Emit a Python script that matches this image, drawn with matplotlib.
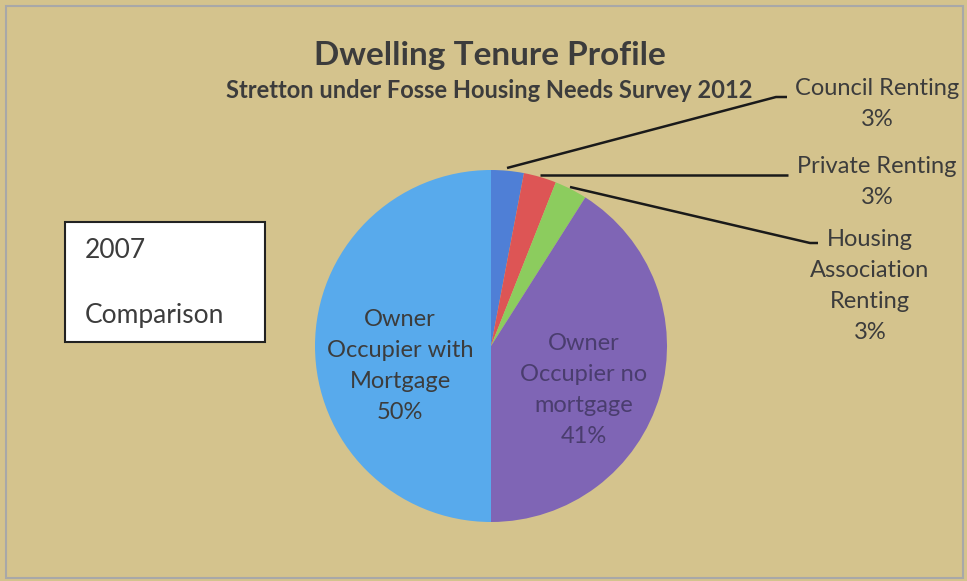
import matplotlib.pyplot as plt
from matplotlib.patches import Rectangle

# tenure categories, clockwise from 12 o'clock
labels = ['Council Renting', 'Private Renting', 'Housing\nAssociation\nRenting',
          'Owner\nOccupier no\nmortgage', 'Owner\nOccupier with\nMortgage']
values = [3, 3, 3, 41, 50]
colors = ['#4f7fd6', '#dd5555', '#8ccc5e', '#7f65b5', '#58aaec']

bg = '#d4c38d'
txt = '#3c3c3c'
plt.rcParams['font.family'] = ['Lato', 'DejaVu Sans']

W, H = 967, 581
fig = plt.figure(figsize=(W / 100, H / 100), dpi=100, facecolor=bg)
ax = fig.add_axes([0, 0, 1, 1])
ax.set_facecolor(bg)

cx, cy, r = 491, H - 346, 176
wedges, _ = ax.pie(values, colors=colors, startangle=90, counterclock=False,
                   center=(cx, cy), radius=r, frame=True)
ax.set_xlim(0, W)
ax.set_ylim(0, H)
ax.axis('off')

# inside labels
inside = {3: (584, 390, '#4a3d6e'), 4: (400, 366, txt)}
for i, (x, y, c) in inside.items():
    ax.text(x, H - y, f'{labels[i]}\n{values[i]}%', ha='center', va='center',
            fontsize=17, color=c, linespacing=1.6)

# outside labels with leader lines: (pie point, elbow, end, text anchor)
outside = [
    ((507, 168), (776, 97), (787, 97), (877, 104)),
    ((540, 175), (788, 175), (788, 175), (877, 182)),
    ((570, 187), (810, 243), (818, 243), (870, 286)),
]
for i, (p0, p1, p2, t) in enumerate(outside):
    ax.plot([p0[0], p1[0], p2[0]], [H - p0[1], H - p1[1], H - p2[1]],
            color='#1a1a1a', lw=1.8, solid_capstyle='butt')
    ax.text(t[0], H - t[1], f'{labels[i]}\n{values[i]}%', ha='center', va='center',
            fontsize=17, color=txt, linespacing=1.6)

# titles
ax.text(490, H - 55, 'Dwelling Tenure Profile', ha='center', va='center',
        fontsize=24, fontweight='bold', color=txt)
ax.text(489, H - 90, 'Stretton under Fosse Housing Needs Survey 2012', ha='center',
        va='center', fontsize=17, fontweight='bold', color=txt)

# comparison box
ax.add_patch(Rectangle((65, H - 342), 200, 120, facecolor='white',
                       edgecolor='#222222', lw=1.5))
ax.text(85, H - 250, '2007', ha='left', va='center', fontsize=19, color=txt)
ax.text(85, H - 315, 'Comparison', ha='left', va='center', fontsize=19, color=txt)

# outer frame
ax.add_patch(Rectangle((6, 3), W - 10, H - 9, facecolor='none',
                       edgecolor='#a8a8a8', lw=1.5))

fig.savefig('out.png', dpi=100, facecolor=bg)
